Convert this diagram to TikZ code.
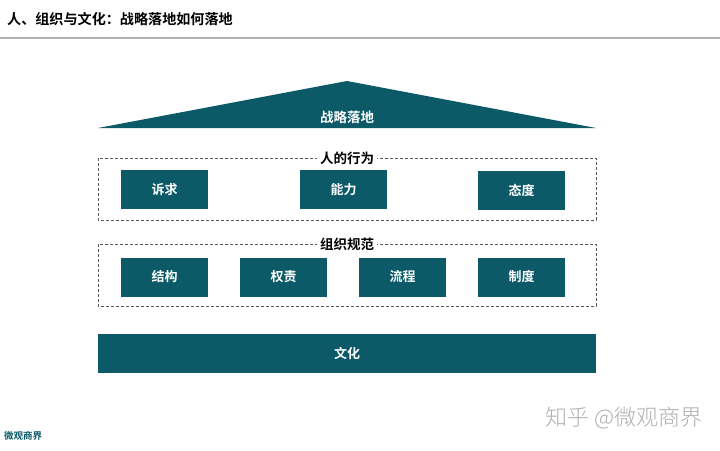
\documentclass[tikz,border=0pt]{standalone}
\usepackage{fontspec}
\newfontfamily\cjk{Noto Sans CJK SC}
\newfontfamily\cjkb{Noto Sans CJK SC Bold}
\newfontfamily\cjkl{Noto Sans CJK SC Light}
\definecolor{teal1}{RGB}{12,90,104}
\definecolor{wm}{RGB}{175,175,175}
\begin{document}
\begin{tikzpicture}[x=1pt,y=-1pt,
  tbox/.style={fill=teal1,draw=none,minimum width=87pt,minimum height=39pt,inner sep=0pt,text=white,font=\cjkb\fontsize{13}{14}\selectfont},
  dbox/.style={draw=black!65,dashed,dash pattern=on 3pt off 2pt,line width=0.8pt},
  glabel/.style={fill=white,inner sep=3pt,font=\cjkb\fontsize{13.5}{14}\selectfont}]
\useasboundingbox (0,0) rectangle (720,450);
\fill[white] (0,0) rectangle (720,450);
% title
\node[anchor=west,inner sep=0pt,font=\cjkb\fontsize{14.1}{15}\selectfont] (title) at (7,19) {人、组织与文化：战略落地如何落地};
\draw[black!30,line width=1.2pt] (0,38) -- (720,38);
% roof
\coordinate (rl) at (98,128);
\coordinate (rr) at (596,128);
\coordinate (ra) at (347,81);
\fill[teal1] (rl) -- (ra) -- (rr) -- cycle;
\node[text=white,font=\cjkb\fontsize{13.5}{14}\selectfont] (roof) at (347,117) {战略落地};
% group 1
\draw[dbox] (98,158) rectangle (596,220);
\node[glabel] (g1) at (347,158) {人的行为};
\node[tbox] (b1) at (164.5,189.5) {诉求};
\node[tbox] (b2) at (343.5,189.5) {能力};
\node[tbox] (b3) at (521.5,190.5) {态度};
% group 2
\draw[dbox] (98,244) rectangle (596,306);
\node[glabel] (g2) at (347,244) {组织规范};
\node[tbox] (c1) at (164.5,277) {结构};
\node[tbox] (c2) at (283.5,277) {权责};
\node[tbox] (c3) at (402.5,277) {流程};
\node[tbox] (c4) at (521.5,277) {制度};
% culture
\node[tbox,minimum width=498pt,minimum height=39pt] (cult) at (347,353.5) {文化};
% footer
\node[anchor=west,inner sep=0pt,text=teal1,font=\cjkb\fontsize{9.5}{10}\selectfont] (src) at (4,436) {微观商界};
\node[anchor=east,inner sep=0pt,text=wm,font=\cjkl\fontsize{22}{23}\selectfont] (wmk) at (703,418) {知乎 @微观商界};
\end{tikzpicture}
\end{document}
